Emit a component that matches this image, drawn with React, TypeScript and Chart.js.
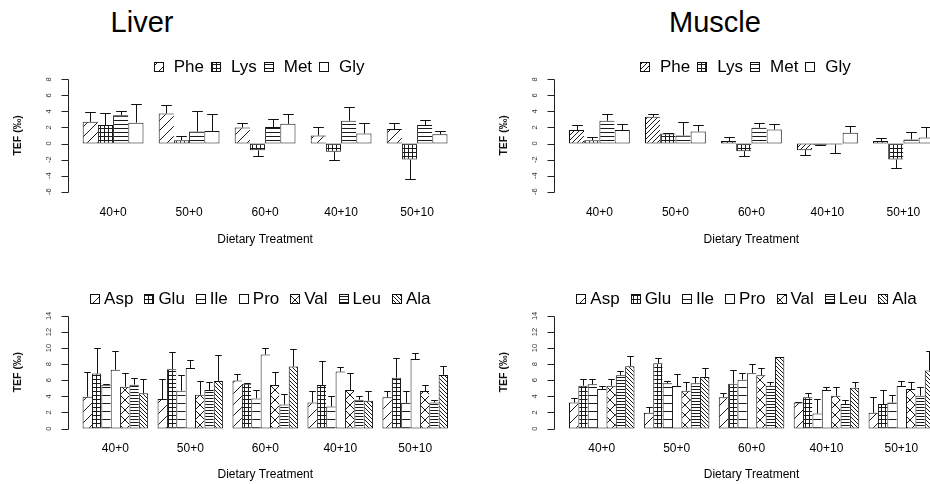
import React, { useEffect, useRef } from 'react';
import { Chart, registerables } from 'chart.js';

Chart.register(...registerables);

const FONT = '"Liberation Sans", Arial, Helvetica, sans-serif';

// ---- categories and axis ticks ----
const treatments = ['40+0', '50+0', '60+0', '40+10', '50+10'];
const topTicks = [-6, -4, -2, 0, 2, 4, 6, 8];
const bottomTicks = [0, 2, 4, 6, 8, 10, 12, 14];

const topSeries = ['Phe', 'Lys', 'Met', 'Gly'];
const bottomSeries = ['Asp', 'Glu', 'Ile', 'Pro', 'Val', 'Leu', 'Ala'];

// ---- Liver: Phe / Lys / Met / Gly (mean TEF and SE, ‰) ----
const liverPhe = [2.7, 3.75, 2.0, 1.0, 1.8];
const liverPheSE = [1.2, 1.08, 0.6, 1.0, 0.8];
const liverLys = [2.3, 0.42, -0.84, -1.04, -2.0];
const liverLysSE = [1.45, 0.55, 0.72, 1.04, 2.46];
const liverMet = [3.52, 1.5, 2.05, 2.84, 2.3];
const liverMetSE = [0.55, 2.55, 1.05, 1.75, 0.6];
const liverGly = [2.6, 1.55, 2.45, 1.25, 1.14];
const liverGlySE = [2.36, 2.1, 1.22, 1.35, 0.38];

// ---- Muscle: Phe / Lys / Met / Gly ----
const musclePhe = [1.67, 3.33, 0.3, -0.83, 0.3];
const musclePheSE = [0.65, 0.34, 0.45, 0.63, 0.35];
const muscleLys = [0.42, 1.25, -0.96, -0.15, -2.0];
const muscleLysSE = [0.38, 0.08, 0.58, 0.05, 1.0];
const muscleMet = [2.83, 1.0, 1.96, -0.12, 0.5];
const muscleMetSE = [0.84, 1.7, 0.62, 1.1, 0.92];
const muscleGly = [1.67, 1.5, 1.75, 1.33, 0.75];
const muscleGlySE = [0.75, 0.8, 0.67, 0.87, 1.35];

// ---- Liver: Asp / Glu / Ile / Pro / Val / Leu / Ala ----
const liverAsp = [3.96, 3.67, 5.96, 3.25, 3.88];
const liverAspSE = [3.12, 2.43, 0.79, 1.45, 0.82];
const liverGlu = [6.83, 7.38, 5.58, 5.42, 6.33];
const liverGluSE = [3.17, 2.16, 0.1, 2.98, 2.42];
const liverIle = [5.46, 4.7, 3.75, 2.75, 3.2];
const liverIleSE = [0.05, 1.97, 1.0, 1.33, 1.43];
const liverPro = [7.3, 7.54, 9.2, 7.08, 8.63];
const liverProSE = [2.33, 1.0, 0.8, 0.52, 0.75];
const liverVal = [5.2, 4.2, 5.42, 4.8, 4.67];
const liverValSE = [1.72, 1.72, 1.58, 2.1, 0.75];
const liverLeu = [5.46, 4.8, 3.0, 3.58, 3.25];
const liverLeuSE = [0.87, 0.95, 1.29, 0.5, 0.29];
const liverAla = [4.38, 5.92, 7.7, 3.46, 6.67];
const liverAlaSE = [1.82, 3.16, 2.2, 1.24, 1.13];

// ---- Muscle: Asp / Glu / Ile / Pro / Val / Leu / Ala ----
const muscleAsp = [3.25, 1.96, 3.9, 3.25, 1.96];
const muscleAspSE = [0.5, 0.74, 0.5, 0.05, 1.92];
const muscleGlu = [5.33, 8.13, 5.58, 3.88, 3.04];
const muscleGluSE = [0.87, 0.62, 1.75, 0.54, 1.71];
const muscleIle = [5.5, 5.63, 6.08, 1.88, 3.25];
const muscleIleSE = [0.7, 0.29, 0.84, 1.83, 0.92];
const musclePro = [4.92, 5.29, 6.88, 4.79, 5.29];
const muscleProSE = [0.41, 1.5, 1.12, 0.42, 0.63];
const muscleVal = [5.33, 4.7, 6.63, 4.08, 4.92];
const muscleValSE = [0.8, 1.13, 0.91, 1.05, 0.87];
const muscleLeu = [6.63, 5.63, 5.33, 3.04, 4.08];
const muscleLeuSE = [0.5, 0.83, 0.5, 0.5, 1.13];
const muscleAla = [7.75, 6.42, 8.88, 5.08, 7.21];
const muscleAlaSE = [1.29, 1.12, 0.05, 0.71, 2.37];

// hatch fill: kind + tile size (px)
type Hatch = [string, number];

function hatch(kind: string, size: number): CanvasPattern | string {
  if (kind === 'none') return '#ffffff';
  const c = document.createElement('canvas');
  c.width = size;
  c.height = size;
  const g = c.getContext('2d')!;
  g.fillStyle = '#ffffff';
  g.fillRect(0, 0, size, size);
  g.strokeStyle = '#1a1a1a';
  g.lineWidth = 1;
  g.beginPath();
  if (kind === 'hor' || kind === 'grid') {
    g.moveTo(0, 0.5);
    g.lineTo(size, 0.5);
  }
  if (kind === 'grid') {
    g.moveTo(0.5, 0);
    g.lineTo(0.5, size);
  }
  if (kind === 'fwd' || kind === 'cross') {
    g.moveTo(-1, size + 1);
    g.lineTo(size + 1, -1);
    g.moveTo(-1, 1);
    g.lineTo(1, -1);
    g.moveTo(size - 1, size + 1);
    g.lineTo(size + 1, size - 1);
  }
  if (kind === 'back' || kind === 'cross') {
    g.moveTo(-1, -1);
    g.lineTo(size + 1, size + 1);
    g.moveTo(size - 1, -1);
    g.lineTo(size + 1, 1);
    g.moveTo(-1, size - 1);
    g.lineTo(1, size + 1);
  }
  g.stroke();
  return g.createPattern(c, 'repeat') as CanvasPattern;
}

type LegendStyle = { y: number; shift: number; box: number; gap: number; itemGap: number };

// R-style decorations: y axis spanning the tick range with rotated labels,
// axis title, error bars and a horizontal legend of hatched boxes
function rDecor(ticks: number[], lg: LegendStyle) {
  return {
    id: 'rDecor',
    afterDatasetsDraw(chart: any) {
      const { ctx } = chart;
      const ys = chart.scales.y;
      const n = chart.data.datasets.length;
      const first = chart.getDatasetMeta(0).data[0];
      const lastMeta = chart.getDatasetMeta(n - 1);
      const last = lastMeta.data[lastMeta.data.length - 1];
      const l = first.x - first.width / 2;
      const r = last.x + last.width / 2;
      const ax = Math.round(l - 0.04 * (r - l)) + 0.5;
      const yTop = ys.getPixelForValue(ticks[ticks.length - 1]);
      const yBot = ys.getPixelForValue(ticks[0]);

      ctx.save();
      ctx.strokeStyle = '#222';
      ctx.lineWidth = 1;
      ctx.beginPath();
      ctx.moveTo(ax, Math.round(yTop) + 0.5);
      ctx.lineTo(ax, Math.round(yBot) + 0.5);
      ticks.forEach((t) => {
        const py = Math.round(ys.getPixelForValue(t)) + 0.5;
        ctx.moveTo(ax - 7, py);
        ctx.lineTo(ax, py);
      });
      ctx.stroke();

      ctx.fillStyle = '#333';
      ctx.font = `7.5px ${FONT}`;
      ctx.textAlign = 'center';
      ctx.textBaseline = 'middle';
      ticks.forEach((t) => {
        ctx.save();
        ctx.translate(ax - 19.5, ys.getPixelForValue(t));
        ctx.rotate(-Math.PI / 2);
        ctx.fillText(String(t), 0, 0);
        ctx.restore();
      });

      ctx.fillStyle = '#111';
      ctx.font = `bold 10.5px ${FONT}`;
      ctx.save();
      ctx.translate(ax - 50, (yTop + yBot) / 2);
      ctx.rotate(-Math.PI / 2);
      ctx.fillText('TEF (‰)', 0, 0);
      ctx.restore();

      // error bars, drawn away from zero
      ctx.strokeStyle = '#111';
      chart.data.datasets.forEach((ds: any, i: number) => {
        const meta = chart.getDatasetMeta(i);
        meta.data.forEach((bar: any, j: number) => {
          const v = ds.data[j];
          const e = ds.errors[j];
          const end = v >= 0 ? v + e : v - e;
          const x = Math.round(bar.x) + 0.5;
          const y0 = ys.getPixelForValue(v);
          const y1 = Math.round(ys.getPixelForValue(end)) + 0.5;
          const hw = bar.width * 0.35;
          ctx.beginPath();
          ctx.moveTo(x, y0);
          ctx.lineTo(x, y1);
          ctx.moveTo(x - hw, y1);
          ctx.lineTo(x + hw, y1);
          ctx.stroke();
        });
      });

      // legend
      ctx.font = `17px ${FONT}`;
      ctx.textAlign = 'left';
      ctx.textBaseline = 'middle';
      const widths = chart.data.datasets.map((ds: any) => ctx.measureText(ds.label).width);
      const total =
        widths.reduce((a: number, b: number) => a + b, 0) + n * (lg.box + lg.gap) + (n - 1) * lg.itemGap;
      let x = (l + r) / 2 + lg.shift - total / 2;
      chart.data.datasets.forEach((ds: any, i: number) => {
        const bx = Math.round(x) + 0.5;
        const by = Math.round(lg.y - lg.box / 2) + 0.5;
        ctx.fillStyle = ds.backgroundColor;
        ctx.fillRect(bx, by, lg.box, lg.box);
        ctx.strokeStyle = '#111';
        ctx.strokeRect(bx, by, lg.box, lg.box);
        x += lg.box + lg.gap;
        ctx.fillStyle = '#000';
        ctx.fillText(ds.label, x, lg.y + 1);
        x += widths[i] + lg.itemGap;
      });
      ctx.restore();
    },
  };
}

type PanelSpec = {
  key: string;
  series: string[];
  values: number[][];
  errors: number[][];
  hatches: Hatch[];
  ticks: number[];
  yMin: number;
  yMax: number;
  catPct: number;
  box: { left: number; top: number; width: number; height: number };
  pad: { left: number; right: number; top: number; bottom: number };
  tickPad: number;
  titlePad: { top: number; bottom: number };
  legend: LegendStyle;
};

const topGeom = {
  yMin: -6.5,
  yMax: 11.5,
  catPct: 0.8,
  tickPad: 10,
  titlePad: { top: 2.7, bottom: 2.8 },
  legend: { y: 26.7, shift: -6, box: 9, gap: 11, itemGap: 7 },
};
const bottomGeom = {
  yMin: -0.5,
  yMax: 18,
  catPct: 0.875,
  tickPad: 9.1,
  titlePad: { top: 2.6, bottom: 1.8 },
  legend: { y: 23, shift: -5, box: 9, gap: 5, itemGap: 11 },
};

const panels: PanelSpec[] = [
  {
    key: 'liverTop',
    series: topSeries,
    values: [liverPhe, liverLys, liverMet, liverGly],
    errors: [liverPheSE, liverLysSE, liverMetSE, liverGlySE],
    hatches: [['fwd', 10], ['grid', 4], ['hor', 4], ['none', 0]],
    ticks: topTicks,
    ...topGeom,
    box: { left: 0, top: 40, width: 465, height: 210 },
    pad: { left: 75.1, right: 9.9, top: 11.2, bottom: 0 },
  },
  {
    key: 'muscleTop',
    series: topSeries,
    values: [musclePhe, muscleLys, muscleMet, muscleGly],
    errors: [musclePheSE, muscleLysSE, muscleMetSE, muscleGlySE],
    hatches: [['fwd', 5], ['grid', 4], ['hor', 4], ['none', 0]],
    ticks: topTicks,
    ...topGeom,
    box: { left: 465, top: 40, width: 495, height: 210 },
    pad: { left: 96.4, right: 18.6, top: 11.2, bottom: 0 },
  },
  {
    key: 'liverBottom',
    series: bottomSeries,
    values: [liverAsp, liverGlu, liverIle, liverPro, liverVal, liverLeu, liverAla],
    errors: [liverAspSE, liverGluSE, liverIleSE, liverProSE, liverValSE, liverLeuSE, liverAlaSE],
    hatches: [['fwd', 11], ['grid', 4], ['hor', 8], ['none', 0], ['cross', 10], ['hor', 3], ['back', 4]],
    ticks: bottomTicks,
    ...bottomGeom,
    box: { left: 0, top: 275, width: 465, height: 209 },
    pad: { left: 77.9, right: 12.3, top: 8.7, bottom: 0 },
  },
  {
    key: 'muscleBottom',
    series: bottomSeries,
    values: [muscleAsp, muscleGlu, muscleIle, musclePro, muscleVal, muscleLeu, muscleAla],
    errors: [muscleAspSE, muscleGluSE, muscleIleSE, muscleProSE, muscleValSE, muscleLeuSE, muscleAlaSE],
    hatches: [['fwd', 11], ['grid', 4], ['hor', 8], ['none', 0], ['cross', 10], ['hor', 3], ['back', 4]],
    ticks: bottomTicks,
    ...bottomGeom,
    box: { left: 465, top: 275, width: 495, height: 209 },
    pad: { left: 99.3, right: 21.2, top: 8.7, bottom: 0 },
  },
];

function Panel({ spec }: { spec: PanelSpec }) {
  const ref = useRef<HTMLCanvasElement>(null);

  useEffect(() => {
    const canvas = ref.current;
    if (!canvas) return;
    const n = spec.series.length;
    const datasets = spec.series.map((name, i) => {
      const [kind, size] = spec.hatches[i];
      return {
        label: name,
        data: spec.values[i],
        errors: spec.errors[i],
        backgroundColor: hatch(kind, size),
        borderColor: '#111',
        borderWidth: { top: 1, bottom: 1, left: 1, right: i === n - 1 ? 1 : 0 },
        borderSkipped: false,
        barPercentage: 1,
        categoryPercentage: spec.catPct,
      };
    });

    const chart = new Chart(canvas, {
      type: 'bar',
      data: { labels: treatments, datasets: datasets as any },
      options: {
        responsive: false,
        animation: false,
        devicePixelRatio: 1,
        events: [],
        layout: { padding: spec.pad },
        scales: {
          x: {
            type: 'category',
            offset: true,
            grid: { display: false, drawTicks: false },
            border: { display: false },
            ticks: {
              padding: spec.tickPad,
              color: '#000',
              autoSkip: false,
              maxRotation: 0,
              font: { size: 12, family: FONT },
            },
            title: {
              display: true,
              text: 'Dietary Treatment',
              color: '#000',
              font: { size: 12, family: FONT },
              padding: spec.titlePad,
            },
          },
          y: { display: false, min: spec.yMin, max: spec.yMax },
        },
        plugins: {
          legend: { display: false },
          tooltip: { enabled: false },
          title: { display: false },
        },
      },
      plugins: [rDecor(spec.ticks, spec.legend)],
    });
    return () => chart.destroy();
  }, [spec]);

  return (
    <canvas
      ref={ref}
      width={spec.box.width}
      height={spec.box.height}
      style={{
        position: 'absolute',
        left: spec.box.left,
        top: spec.box.top,
        width: spec.box.width,
        height: spec.box.height,
      }}
    />
  );
}

const tissueTitles = [
  { text: 'Liver', cx: 142 },
  { text: 'Muscle', cx: 715 },
];

export default function App() {
  return (
    <div
      style={{
        position: 'absolute',
        left: 0,
        top: 0,
        width: 930,
        height: 484,
        overflow: 'hidden',
        background: '#ffffff',
      }}
    >
      {tissueTitles.map((t) => (
        <div
          key={t.text}
          style={{
            position: 'absolute',
            left: t.cx - 100,
            top: 6,
            width: 200,
            textAlign: 'center',
            fontFamily: FONT,
            fontSize: 29,
            lineHeight: '32px',
            color: '#000',
          }}
        >
          {t.text}
        </div>
      ))}
      {panels.map((p) => (
        <Panel key={p.key} spec={p} />
      ))}
    </div>
  );
}
